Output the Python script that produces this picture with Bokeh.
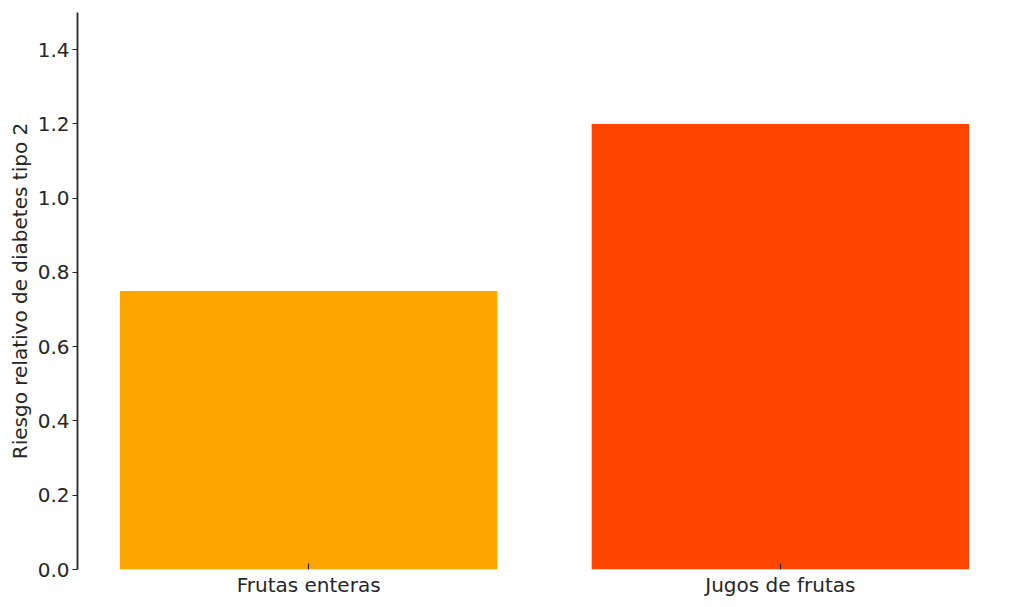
from bokeh.plotting import figure
from bokeh.models import Range1d, FixedTicker
from bokeh.embed import file_html
from bokeh.resources import INLINE

categories = ["Frutas enteras", "Jugos de frutas"]
riesgo = [0.75, 1.2]
colores = ["#FFA500", "#FF4500"]
y_ticks = [0.0, 0.2, 0.4, 0.6, 0.8, 1.0, 1.2, 1.4]

FONT = "DejaVu Sans"
TEXT = "#262626"

xs = list(range(len(categories)))

p = figure(
    width=1016,
    height=599,
    output_backend="svg",
    toolbar_location=None,
    x_range=Range1d(-0.49, len(categories) - 1 + 0.49),
    y_range=Range1d(0, 1.5),
    min_border_left=77,
    min_border_right=5,
    min_border_top=12,
    min_border_bottom=30,
)
p.outline_line_color = None
p.xgrid.visible = False
p.ygrid.visible = False
p.background_fill_color = "white"
p.border_fill_color = "white"

p.vbar(x=xs, top=riesgo, width=0.8, fill_color=colores, line_color=None)

# eje x: sin linea, marcas hacia dentro
p.xaxis.ticker = FixedTicker(ticks=xs)
p.xaxis.major_label_overrides = {i: c for i, c in zip(xs, categories)}
p.xaxis.axis_line_color = None
p.xaxis.minor_tick_line_color = None
p.xaxis.major_tick_in = 6
p.xaxis.major_tick_out = 0
p.xaxis.major_tick_line_color = TEXT
p.xaxis.major_tick_line_width = 1.2
p.xaxis.major_label_standoff = 3
p.xaxis.major_label_text_font = FONT
p.xaxis.major_label_text_font_size = "20px"
p.xaxis.major_label_text_color = TEXT

# eje y
p.yaxis.ticker = FixedTicker(ticks=y_ticks)
p.yaxis.major_label_overrides = {t: f"{t:.1f}" for t in y_ticks}
p.yaxis.axis_line_color = TEXT
p.yaxis.axis_line_width = 1.8
p.yaxis.minor_tick_line_color = None
p.yaxis.major_tick_in = 0
p.yaxis.major_tick_out = 5
p.yaxis.major_tick_line_color = TEXT
p.yaxis.major_tick_line_width = 1.2
p.yaxis.major_label_standoff = 3
p.yaxis.major_label_text_font = FONT
p.yaxis.major_label_text_font_size = "20px"
p.yaxis.major_label_text_color = TEXT
p.yaxis.axis_label = "Riesgo relativo de diabetes tipo 2"
p.yaxis.axis_label_text_font = FONT
p.yaxis.axis_label_text_font_size = "20px"
p.yaxis.axis_label_text_font_style = "normal"
p.yaxis.axis_label_text_color = TEXT
p.yaxis.axis_label_standoff = 3

open("out.html", "w").write(file_html(p, INLINE))
